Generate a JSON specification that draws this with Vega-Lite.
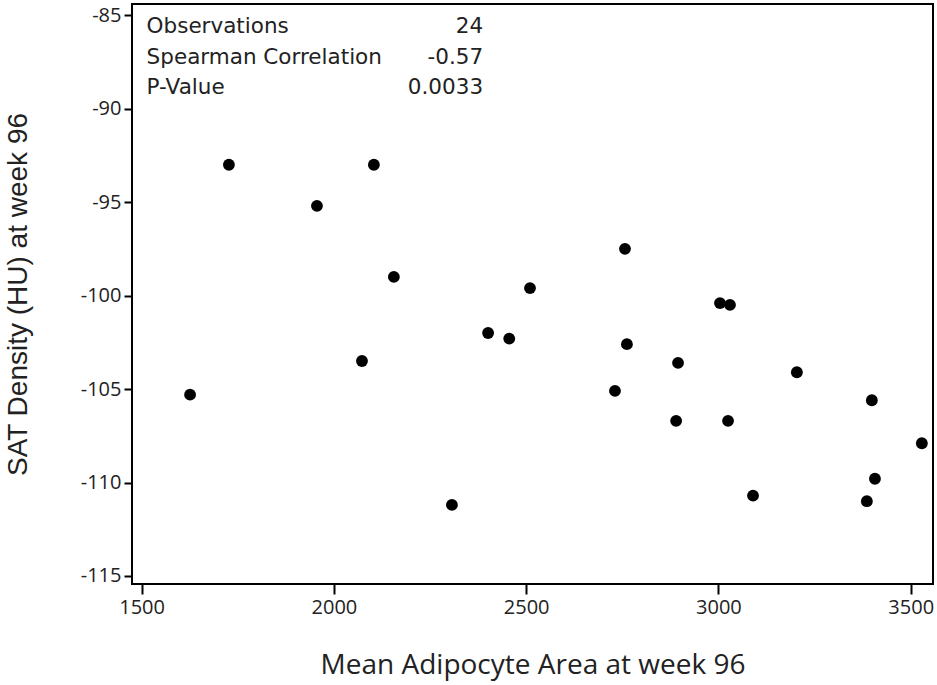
{
  "$schema": "https://vega.github.io/schema/vega-lite/v6.json",
  "autosize": {"type": "none"},
  "padding": {"left": 132, "top": 4, "right": 4, "bottom": 101},
  "width": 801,
  "height": 580,
  "background": "white",
  "config": {
    "view": {"stroke": "black", "strokeWidth": 2},
    "axis": {
      "grid": false,
      "domain": false,
      "tickColor": "black",
      "tickWidth": 2,
      "labelColor": "#222",
      "titleColor": "#222",
      "labelFont": "Open Sans",
      "titleFont": "Open Sans",
      "labelFontSize": 20,
      "titleFontSize": 28,
      "titleFontWeight": "normal"
    }
  },
  "layer": [
    {
      "data": {
        "values": [
          {"area": 1626, "density": -105.3},
          {"area": 1727, "density": -93.0},
          {"area": 1956, "density": -95.2},
          {"area": 2104, "density": -93.0},
          {"area": 2156, "density": -99.0},
          {"area": 2073, "density": -103.5},
          {"area": 2307, "density": -111.2},
          {"area": 2401, "density": -102.0},
          {"area": 2456, "density": -102.3},
          {"area": 2510, "density": -99.6},
          {"area": 2731, "density": -105.1},
          {"area": 2757, "density": -97.5},
          {"area": 2762, "density": -102.6},
          {"area": 2890, "density": -106.7},
          {"area": 2895, "density": -103.6},
          {"area": 3004, "density": -100.4},
          {"area": 3030, "density": -100.5},
          {"area": 3025, "density": -106.7},
          {"area": 3090, "density": -110.7},
          {"area": 3204, "density": -104.1},
          {"area": 3386, "density": -111.0},
          {"area": 3399, "density": -105.6},
          {"area": 3407, "density": -109.8},
          {"area": 3529, "density": -107.9}
        ]
      },
      "mark": {"type": "point", "filled": true, "color": "black", "opacity": 1, "size": 140},
      "encoding": {
        "x": {
          "field": "area", "type": "quantitative",
          "scale": {"domain": [1475, 3558], "nice": false, "zero": false},
          "axis": {
            "title": "Mean Adipocyte Area at week 96",
            "values": [1500, 2000, 2500, 3000, 3500],
            "format": "d",
            "tickSize": 10,
            "labelPadding": 3,
            "titlePadding": 34
          }
        },
        "y": {
          "field": "density", "type": "quantitative",
          "scale": {"domain": [-115.43, -84.4], "nice": false, "zero": false},
          "axis": {
            "title": "SAT Density (HU) at week 96",
            "titleFont": "Liberation Sans",
            "values": [-115, -110, -105, -100, -95, -90, -85],
            "labelExpr": "toString(datum.value)",
            "tickSize": 8,
            "labelPadding": 3,
            "titlePadding": 48
          }
        }
      }
    },
    {
      "data": {"values": [{"box": "stats"}]},
      "mark": {"type": "text", "text": ["Observations", "Spearman Correlation", "P-Value"], "align": "left", "baseline": "top", "font": "DejaVu Sans", "fontSize": 21.5, "fontWeight": "normal", "lineHeight": 30.5, "color": "#222"},
      "encoding": {"x": {"datum": 1513}, "y": {"datum": -85.05}}
    },
    {
      "data": {"values": [{"box": "stats"}]},
      "mark": {"type": "text", "text": ["24", "-0.57", "0.0033"], "align": "right", "baseline": "top", "font": "DejaVu Sans", "fontSize": 21.5, "fontWeight": "normal", "lineHeight": 30.5, "color": "#222"},
      "encoding": {"x": {"datum": 2388}, "y": {"datum": -85.05}}
    }
  ]
}
